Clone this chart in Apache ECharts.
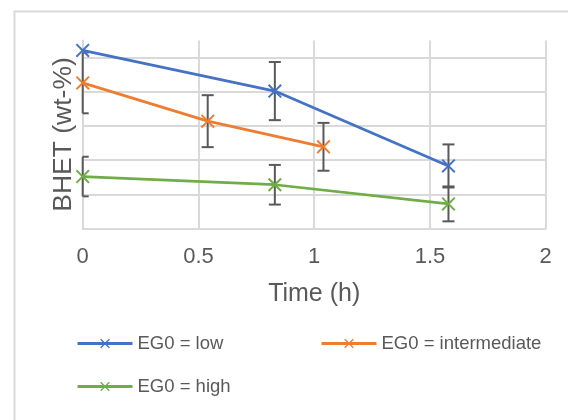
<!DOCTYPE html>
<html><head><meta charset="utf-8">
<script src="https://cdn.jsdelivr.net/npm/echarts@6/dist/echarts.min.js"></script>
<style>html,body{margin:0;padding:0;background:#fff}#c{width:568px;height:420px}</style>
</head><body><div id="c"></div>
<script>
// Data
const seriesNames = ['EG0 = low', 'EG0 = intermediate', 'EG0 = high'];
const lowTime = [0, 0.83, 1.58];
const lowBHET = [5.21, 4.02, 1.83];
const lowErr = [0, 0.85, 0.63];
const midTime = [0, 0.54, 1.04];
const midBHET = [4.26, 3.14, 2.39];
const midErr = [0.89, 0.76, 0.70];
const highTime = [0, 0.83, 1.58];
const highBHET = [1.52, 1.28, 0.72];
const highErr = [0.58, 0.58, 0.51];
const xTicks = [0, 0.5, 1, 1.5, 2];

const colors = ['#4472C4', '#ED7D31', '#70AD47'];
const xSym = 'path://M0,2 L2,0 L10,8 L18,0 L20,2 L12,10 L20,18 L18,20 L10,12 L2,20 L0,18 L8,10 Z';
const font = '"Liberation Sans", Arial, sans-serif';
const textColor = '#595959';

function pts(t, v) { return t.map((x, i) => [x, v[i]]); }
function errPts(t, v, e) { return t.map((x, i) => [x, v[i], e[i]]); }

function lineSeries(name, t, v, color) {
  return {
    name, type: 'line', data: pts(t, v), z: 3,
    symbol: xSym, symbolSize: 14, showSymbol: true,
    lineStyle: { color, width: 2.75 }, itemStyle: { color },
    animation: false
  };
}
function errSeries(name, t, v, e) {
  return {
    name, type: 'custom', data: errPts(t, v, e), z: 2,
    encode: { x: 0, y: 1 },
    renderItem: function (params, api) {
      const x = api.value(0), y = api.value(1), e = api.value(2);
      if (!e) return null;
      const left = params.coordSys.x;
      const a = api.coord([x, y + e]), b = api.coord([x, y - e]);
      const hw = 6, st = { stroke: '#595959', lineWidth: 2 };
      const x1 = Math.max(a[0] - hw, left), x2 = a[0] + hw;
      return { type: 'group', children: [
        { type: 'line', shape: { x1: a[0], y1: a[1], x2: b[0], y2: b[1] }, style: st },
        { type: 'line', shape: { x1: x1, y1: a[1], x2: x2, y2: a[1] }, style: st },
        { type: 'line', shape: { x1: x1, y1: b[1], x2: x2, y2: b[1] }, style: st }
      ]};
    },
    animation: false
  };
}
function legendAt(name, left, top) {
  return {
    data: [name], left, top, padding: 0, itemWidth: 55, itemHeight: 12,
    selectedMode: false,
    lineStyle: { width: 3 },
    textStyle: { fontFamily: font, fontSize: 18.5, color: textColor }
  };
}

const chart = echarts.init(document.getElementById('c'), null, { renderer: 'canvas' });
chart.setOption({
  animation: false,
  color: colors,
  graphic: [{
    type: 'rect', shape: { x: 14.5, y: 11.5, width: 700, height: 600 },
    style: { fill: 'none', stroke: '#d9d9d9', lineWidth: 2 }, silent: true, z: -1
  }],
  grid: { left: 82.7, right: 22.3, top: 40.5, bottom: 191.5 },
  xAxis: {
    type: 'value', min: xTicks[0], max: xTicks[xTicks.length - 1], interval: 0.5,
    name: 'Time (h)', nameLocation: 'middle', nameGap: 53,
    nameTextStyle: { fontFamily: font, fontSize: 25, color: textColor },
    axisLine: { show: true, lineStyle: { color: '#d9d9d9', width: 2 } },
    axisTick: { show: false },
    axisLabel: { fontFamily: font, fontSize: 22, color: textColor, margin: 17,
      formatter: v => String(v) },
    splitLine: { show: true, lineStyle: { color: '#d9d9d9', width: 2 } }
  },
  yAxis: {
    type: 'value', min: 0, max: 5.5, interval: 1,
    name: 'BHET (wt-%)', nameLocation: 'middle', nameGap: 6,
    nameTextStyle: { fontFamily: font, fontSize: 26.5, color: textColor },
    axisLine: { show: true, lineStyle: { color: '#d9d9d9', width: 2 } },
    axisTick: { show: false },
    axisLabel: { show: false },
    splitLine: { show: true, showMaxLine: false, lineStyle: { color: '#d9d9d9', width: 2 } }
  },
  legend: [
    legendAt(seriesNames[0], 76, 334),
    legendAt(seriesNames[1], 320, 334),
    legendAt(seriesNames[2], 76, 377)
  ],
  series: [
    errSeries('err-low', lowTime, lowBHET, lowErr),
    errSeries('err-mid', midTime, midBHET, midErr),
    errSeries('err-high', highTime, highBHET, highErr),
    lineSeries(seriesNames[0], lowTime, lowBHET, colors[0]),
    lineSeries(seriesNames[1], midTime, midBHET, colors[1]),
    lineSeries(seriesNames[2], highTime, highBHET, colors[2])
  ]
});
</script></body></html>
